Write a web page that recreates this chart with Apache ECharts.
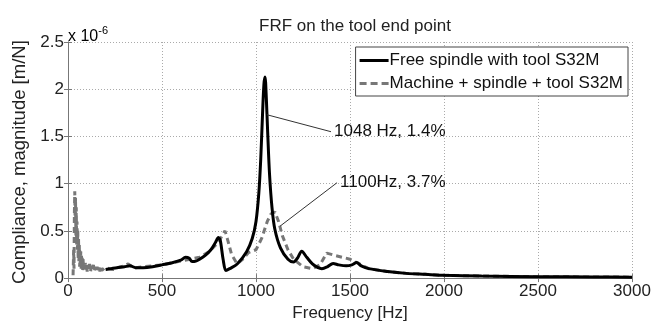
<!DOCTYPE html>
<html>
<head>
<meta charset="utf-8">
<script src="https://cdn.jsdelivr.net/npm/echarts@6/dist/echarts.min.js"></script>
<style>
  html, body { margin: 0; padding: 0; background: #fff; }
  #chart { width: 666px; height: 327px; }
</style>
</head>
<body>
<div id="chart"></div>
<script>
// 频率响应数据（单位 1e-6 m/N）
const freeFreq = [200, 230, 260, 300, 330, 360, 400, 450, 500, 550, 600, 625, 645, 660, 680, 700, 730, 760, 785, 800, 810, 825, 840, 860, 900, 950, 980, 1000, 1015, 1025, 1035, 1042, 1048, 1055, 1062, 1072, 1085, 1100, 1130, 1170, 1200, 1220, 1243, 1270, 1300, 1330, 1350, 1380, 1410, 1440, 1480, 1510, 1535, 1560, 1600, 1700, 1800, 1900, 2000, 2200, 2500, 2800, 3000];
const freeVal  = [0.09, 0.10, 0.11, 0.12, 0.13, 0.11, 0.11, 0.12, 0.14, 0.16, 0.19, 0.22, 0.21, 0.175, 0.18, 0.20, 0.24, 0.30, 0.38, 0.43, 0.40, 0.20, 0.08, 0.10, 0.15, 0.28, 0.42, 0.60, 0.90, 1.25, 1.75, 2.05, 2.13, 1.90, 1.55, 1.10, 0.75, 0.52, 0.32, 0.20, 0.17, 0.21, 0.285, 0.22, 0.15, 0.11, 0.10, 0.12, 0.155, 0.14, 0.13, 0.14, 0.165, 0.13, 0.10, 0.07, 0.05, 0.04, 0.03, 0.022, 0.015, 0.012, 0.01];

const machFreq = [27, 30, 32, 34, 36, 38, 40, 42, 44, 46, 48, 50, 52, 54, 56, 58, 60, 62, 64, 66, 68, 70, 72, 74, 76, 78, 80, 83, 86, 89, 92, 95, 98, 102, 106, 110, 115, 120, 125, 130, 135, 140, 145, 150, 155, 160, 165, 170, 175, 180, 185, 190, 195, 200, 220, 240, 260, 280, 300, 320, 340, 360, 400, 450, 500, 550, 600, 650, 700, 750, 800, 820, 835, 850, 870, 900, 930, 960, 1000, 1030, 1060, 1080, 1101, 1120, 1140, 1170, 1200, 1250, 1300, 1340, 1376, 1420, 1460, 1500, 1550, 1600, 1700, 1800, 1900, 2000, 2200, 2500, 2800, 3000];
const machVal  = [0.03, 0.30, 0.10, 0.70, 0.92, 0.60, 0.85, 0.45, 0.75, 0.35, 0.60, 0.30, 0.50, 0.20, 0.42, 0.18, 0.36, 0.12, 0.30, 0.15, 0.28, 0.10, 0.24, 0.12, 0.22, 0.08, 0.20, 0.10, 0.18, 0.08, 0.16, 0.09, 0.15, 0.07, 0.14, 0.09, 0.15, 0.07, 0.13, 0.09, 0.14, 0.08, 0.12, 0.07, 0.12, 0.08, 0.11, 0.07, 0.12, 0.08, 0.10, 0.08, 0.11, 0.09, 0.10, 0.09, 0.11, 0.12, 0.13, 0.15, 0.12, 0.11, 0.12, 0.13, 0.14, 0.16, 0.18, 0.20, 0.22, 0.28, 0.38, 0.45, 0.50, 0.40, 0.25, 0.15, 0.20, 0.27, 0.30, 0.42, 0.60, 0.68, 0.70, 0.60, 0.45, 0.30, 0.20, 0.12, 0.10, 0.14, 0.265, 0.24, 0.22, 0.20, 0.15, 0.10, 0.07, 0.05, 0.04, 0.03, 0.022, 0.015, 0.012, 0.01];

// 注释线与文字
const notes = [
    { text: '1048 Hz, 1.4%', from: [1058, 1.73], to: [1399, 1.55] },
    { text: '1100Hz, 3.7%',  from: [1128, 0.55], to: [1431, 1.01] }
];

const font = 'Liberation Sans, Arial, sans-serif';
const chart = echarts.init(document.getElementById('chart'));

const zip = (xs, ys) => xs.map((x, i) => [x, ys[i]]);

const frameAxis = {
    min: 0,
    axisLine: { show: true, lineStyle: { color: '#777', width: 1 } },
    axisTick: { show: true, inside: true, length: 4, lineStyle: { color: '#777' } },
    axisLabel: { show: false },
    splitLine: { show: false }
};

chart.setOption({
    animation: false,
    backgroundColor: '#fff',
    title: {
        text: 'FRF on the tool end point',
        left: 350,
        textAlign: 'center',
        top: 13,
        textStyle: { fontFamily: font, fontSize: 17, fontWeight: 'normal', color: '#222' }
    },
    grid: { left: 68, right: 34, top: 42, bottom: 42 },
    legend: {
        orient: 'vertical',
        right: 38,
        top: 47,
        itemWidth: 29,
        itemHeight: 3,
        itemGap: 6,
        padding: [5, 5, 4, 4],
        backgroundColor: '#fff',
        borderColor: '#444',
        borderWidth: 1,
        textStyle: { fontFamily: font, fontSize: 17, color: '#111', padding: [0, 0, 0, -4] },
        data: [
            { name: 'Free spindle with tool S32M', icon: 'rect' },
            { name: 'Machine + spindle + tool S32M', icon: 'path://M0,0h7v3h-7z M11,0h7v3h-7z M22,0h7v3h-7z' }
        ]
    },
    xAxis: [{
        type: 'value',
        min: 0, max: 3000, interval: 500,
        name: 'Frequency [Hz]',
        nameLocation: 'middle',
        nameGap: 24,
        nameTextStyle: { fontFamily: font, fontSize: 17, color: '#222' },
        axisLine: { onZero: false, lineStyle: { color: '#777', width: 1 } },
        axisTick: { inside: true, length: 4, lineStyle: { color: '#777' } },
        axisLabel: { fontFamily: font, fontSize: 17, color: '#222', margin: 5, formatter: v => String(v) },
        splitLine: { show: true, lineStyle: { color: '#aaa', type: [1, 2], width: 1 } }
    }, Object.assign({ type: 'value', position: 'top', max: 3000, interval: 500 }, frameAxis)],
    yAxis: [{
        type: 'value',
        min: 0, max: 2.5, interval: 0.5,
        name: 'Compliance, magnitude [m/N]',
        nameLocation: 'middle',
        nameGap: 35,
        nameTextStyle: { fontFamily: font, fontSize: 18.5, color: '#222', padding: [0, 4, 0, 0] },
        axisLine: { show: true, onZero: false, lineStyle: { color: '#777', width: 1 } },
        axisTick: { show: true, inside: true, length: 4, lineStyle: { color: '#777' } },
        axisLabel: { fontFamily: font, fontSize: 17, color: '#222', margin: 4 },
        splitLine: { show: true, lineStyle: { color: '#aaa', type: [1, 2], width: 1 } }
    }, Object.assign({ type: 'value', position: 'right', max: 2.5, interval: 0.5 }, frameAxis)],
    graphic: [{
        type: 'text',
        left: 68,
        top: 25,
        style: {
            text: '{a|x 10}{b|-6}',
            rich: {
                a: { fontFamily: font, fontSize: 16, color: '#222' },
                b: { fontFamily: font, fontSize: 11, color: '#222', padding: [0, 0, 12, 0] }
            }
        }
    }],
    series: [{
        name: 'Free spindle with tool S32M',
        type: 'line',
        data: zip(freeFreq, freeVal),
        symbol: 'none',
        smooth: 0.3,
        z: 3,
        lineStyle: { color: '#000', width: 3 },
        itemStyle: { color: '#000' },
        markLine: {
            silent: true,
            symbol: ['none', 'none'],
            lineStyle: { color: '#333', width: 1, type: 'solid' },
            label: { show: false },
            data: notes.map(n => [{ coord: n.from }, { coord: n.to }])
        },
        markPoint: {
            silent: true,
            symbol: 'circle',
            symbolSize: 0,
            label: {
                show: true,
                position: 'right',
                distance: 3,
                fontFamily: font,
                fontSize: 17,
                color: '#111',
                formatter: p => p.data.note
            },
            data: notes.map(n => ({ coord: n.to, note: n.text }))
        }
    }, {
        name: 'Machine + spindle + tool S32M',
        type: 'line',
        data: zip(machFreq, machVal),
        symbol: 'none',
        z: 2,
        lineStyle: { color: '#777', width: 3, type: [6, 4] },
        itemStyle: { color: '#777' }
    }]
});
</script>
</body>
</html>
